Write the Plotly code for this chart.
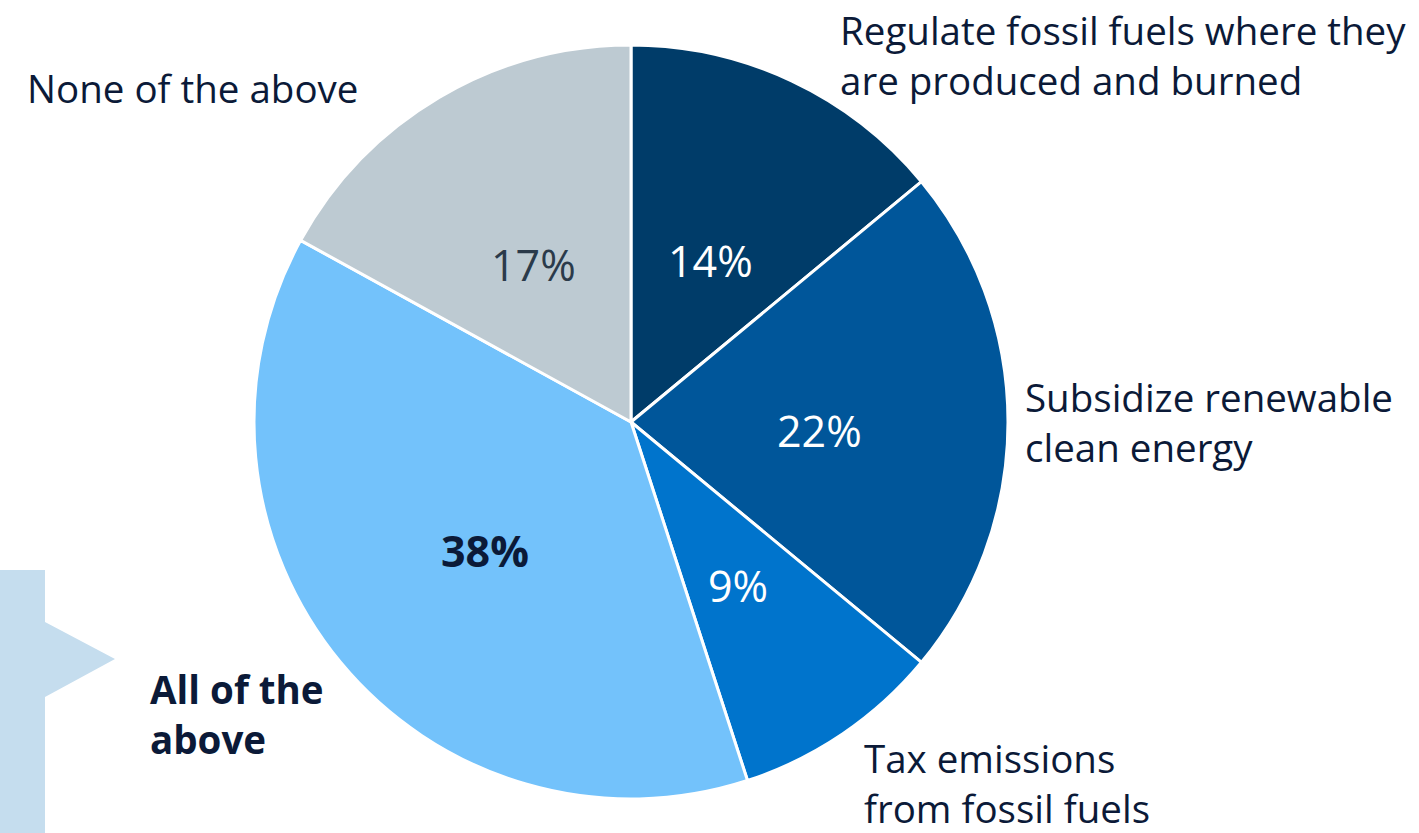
import plotly.graph_objects as go

W, H = 1419, 833

# survey answers, clockwise from 12 o'clock
categories = [
    "Regulate fossil fuels where they<br>are produced and burned",
    "Subsidize renewable<br>clean energy",
    "Tax emissions<br>from fossil fuels",
    "<b>All of the<br>above</b>",
    "None of the above",
]
shares = [14, 22, 9, 38, 17]
slice_colors = ["#003c69", "#00569a", "#0074cc", "#73c2fb", "#bdcad2"]
pct_colors = ["white", "white", "white", "#0b1a38", "#2b3a4a"]
pct_bold = [False, False, False, True, False]

# pixel positions of text (layout, not data)
pct_pos = [(710, 260), (820, 430), (738, 585), (485, 550), (533, 265)]
label_pos = [(838, 55), (1023, 422), (862, 783), (148, 714), (25, 88)]

TEXT = "#0b1a38"
FONT = "Open Sans"


def px(x, y):
    return x / W, 1 - y / H


fig = go.Figure(go.Pie(
    labels=categories,
    values=shares,
    sort=False,
    direction="clockwise",
    rotation=0,
    textinfo="none",
    hoverinfo="label+percent",
    marker=dict(colors=slice_colors, line=dict(color="white", width=3)),
    domain=dict(x=[254 / W, 1008 / W], y=[1 - 799 / H, 1 - 45 / H]),
    showlegend=False,
))

annotations = []
for val, (x, y), col, bold in zip(shares, pct_pos, pct_colors, pct_bold):
    ax, ay = px(x, y)
    txt = f"{val}%"
    if bold:
        txt = f"<b>{txt}</b>"
    annotations.append(dict(
        x=ax, y=ay, xref="paper", yref="paper", text=txt, showarrow=False,
        xanchor="center", yanchor="middle",
        font=dict(family=FONT, size=43, color=col),
    ))

for lab, (x, y) in zip(categories, label_pos):
    ax, ay = px(x, y)
    annotations.append(dict(
        x=ax, y=ay, xref="paper", yref="paper", text=lab, showarrow=False,
        xanchor="left", yanchor="middle", align="left",
        font=dict(family=FONT, size=38.5, color=TEXT),
    ))

# callout bracket pointing at "All of the above"
pts = [(0, 570), (45, 570), (45, 622), (115, 659), (45, 697), (45, 833), (0, 833)]
path = "M " + " L ".join(f"{px(x, y)[0]:.5f},{px(x, y)[1]:.5f}" for x, y in pts) + " Z"

fig.update_layout(
    width=W,
    height=H,
    margin=dict(t=0, b=0, l=0, r=0),
    paper_bgcolor="white",
    plot_bgcolor="white",
    annotations=annotations,
    shapes=[dict(type="path", path=path, xref="paper", yref="paper",
                 fillcolor="#c5ddee", line=dict(width=0), layer="below")],
)

fig.write_html("out.html", config={"displayModeBar": False},
               post_script="document.body.style.margin='0';")
